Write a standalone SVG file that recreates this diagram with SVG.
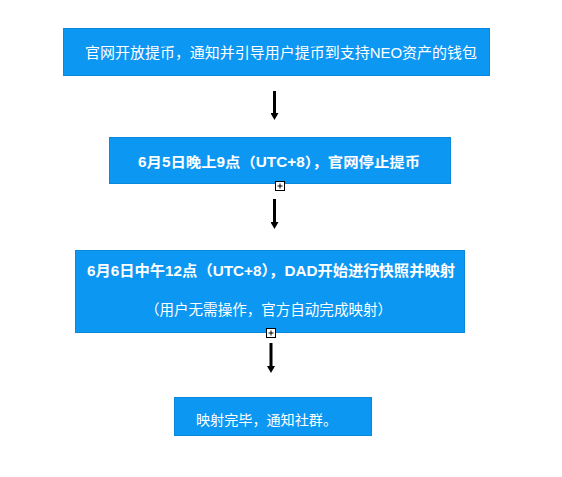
<svg xmlns="http://www.w3.org/2000/svg" width="562" height="477" viewBox="0 0 562 477">
<style>
.box{fill:#0C97F3;stroke:#0B88DC;stroke-width:1}
.t{fill:#ffffff;font-family:"Liberation Sans","Noto Sans CJK SC",sans-serif;text-anchor:middle;dominant-baseline:central}
.b{font-weight:bold}
.conn{stroke:#000;stroke-width:3;fill:none}
.plus{fill:#fff;stroke:#000;stroke-width:1}
</style>
<defs>
<marker id="ah" viewBox="0 0 7 8" refX="1" refY="4" markerWidth="7" markerHeight="8" markerUnits="userSpaceOnUse" orient="auto">
<path d="M0,0 L7,4 L0,8 Z" fill="#000"/>
</marker>
</defs>
<rect width="562" height="477" fill="#fff"/>
<g id="node1">
<rect class="box" x="63.5" y="28.5" width="426" height="47"/>
<text class="t" x="281" y="52" font-size="15" textLength="392" lengthAdjust="spacingAndGlyphs">官网开放提币，通知并引导用户提币到支持NEO资产的钱包</text>
</g>
<g id="node2">
<rect class="box" x="109.5" y="137.5" width="341" height="46"/>
<text class="t b" x="279" y="162" font-size="14" textLength="282" lengthAdjust="spacingAndGlyphs">6月5日晚上9点（UTC+8），官网停止提币</text>
<g class="plus"><rect x="275.5" y="181.5" width="9" height="9"/><path d="M277.5,186 H282.5 M280,183.5 V188.5"/></g>
</g>
<g id="node3">
<rect class="box" x="75.5" y="250.5" width="389" height="82"/>
<text class="t b" x="271" y="271" font-size="14.5" textLength="368" lengthAdjust="spacingAndGlyphs">6月6日中午12点（UTC+8），DAD开始进行快照并映射</text>
<text class="t" x="268.5" y="310" font-size="14.5" textLength="247" lengthAdjust="spacingAndGlyphs">（用户无需操作，官方自动完成映射）</text>
<g class="plus"><rect x="266.5" y="328.5" width="9" height="9"/><path d="M268.5,333 H273.5 M271,330.5 V335.5"/></g>
</g>
<g id="node4">
<rect class="box" x="174.5" y="397.5" width="197" height="38"/>
<text class="t" x="266.5" y="420" font-size="14" textLength="141" lengthAdjust="spacingAndGlyphs">映射完毕，通知社群。</text>
</g>
<g id="connectors">
<path class="conn" d="M274.5,91 V114" marker-end="url(#ah)"/>
<path class="conn" d="M274.5,199 V223" marker-end="url(#ah)"/>
<path class="conn" d="M271,343 V367" marker-end="url(#ah)"/>
</g>
</svg>
